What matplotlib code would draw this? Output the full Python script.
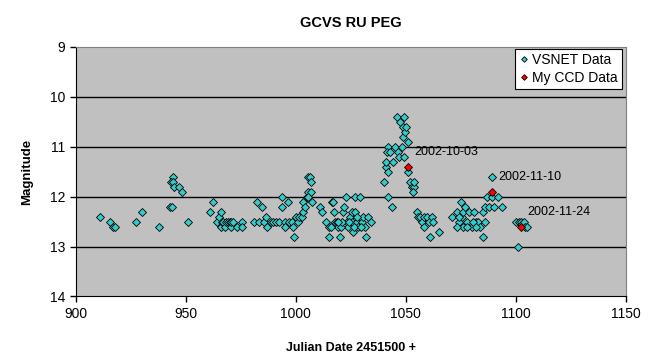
import matplotlib.pyplot as plt

plt.rcParams['font.family'] = ['Liberation Sans', 'DejaVu Sans']

# VSNET observations: (JD - 2451500, magnitude)
vsnet_jd = [
    911.0, 915.6, 917.1, 917.9, 927.4, 930.3, 937.9, 942.9, 943.9, 944.4,
    943.4, 944.4, 944.7, 947.0, 948.5, 951.2, 961.0, 962.5, 964.1, 965.1,
    966.0, 966.0, 966.5, 967.0, 968.0, 968.5, 969.0, 970.0, 970.4, 970.8,
    971.5, 973.5, 975.4, 975.4, 981.0, 982.4, 983.4, 984.5, 985.6, 986.5,
    987.1, 988.6, 989.8, 991.0, 992.5, 993.6, 993.6, 995.1, 995.1, 996.7,
    997.1, 998.2, 998.9, 999.4, 1000.2, 1001.2, 1001.7, 1002.7, 1003.2, 1003.5,
    1004.2, 1005.0, 1005.4, 1006.5, 1007.0, 1005.7, 1007.0, 1005.7, 1007.3, 1011.0,
    1011.8, 1013.7, 1015.2, 1015.2, 1016.3, 1017.0, 1017.4, 1017.8, 1018.6, 1019.4,
    1020.1, 1021.6, 1022.1, 1022.9, 1023.2, 1023.9, 1024.7, 1025.5, 1025.5, 1026.2,
    1027.0, 1027.0, 1027.7, 1028.5, 1029.2, 1030.0, 1030.7, 1031.5, 1032.0, 1033.0,
    1034.2, 1020.5, 1021.0, 1024.3, 1026.5, 1028.0, 1029.5, 1019.0, 1016.0,
    1040.1, 1041.0, 1041.0, 1041.8, 1042.1, 1041.4, 1042.1, 1042.8, 1043.9, 1044.4,
    1045.1, 1045.9, 1046.6, 1047.1, 1047.4, 1048.1, 1048.6, 1048.9, 1049.4, 1049.7,
    1049.2, 1050.2, 1051.2, 1051.2, 1052.0, 1052.8, 1053.6, 1053.3, 1053.9, 1055.1,
    1055.4, 1056.6, 1057.4, 1058.1, 1058.4, 1059.6, 1060.4, 1060.8, 1061.8, 1062.6,
    1065.3, 1071.2, 1073.2, 1075.0, 1074.4, 1075.4, 1076.2, 1076.2, 1076.9, 1077.7,
    1078.9, 1079.9, 1081.0, 1081.9, 1083.0, 1083.8, 1084.9, 1085.3, 1086.0, 1086.0,
    1086.8, 1088.0, 1089.1, 1089.1, 1089.9, 1091.7, 1093.9, 1073.5, 1074.0, 1078.0,
    1080.5, 1082.0, 1100.0, 1100.8, 1101.5, 1102.3, 1103.0, 1103.8, 1104.2, 1105.3,
]
vsnet_mag = [
    12.4, 12.5, 12.6, 12.6, 12.5, 12.3, 12.6, 12.2, 12.2, 11.6,
    11.7, 11.7, 11.8, 11.8, 11.9, 12.5, 12.3, 12.1, 12.5, 12.4,
    12.3, 12.6, 12.5, 12.5, 12.6, 12.5, 12.5, 12.5, 12.6, 12.5,
    12.5, 12.6, 12.5, 12.6, 12.5, 12.1, 12.5, 12.2, 12.5, 12.4,
    12.6, 12.5, 12.5, 12.5, 12.5, 12.0, 12.2, 12.5, 12.6, 12.1,
    12.5, 12.5, 12.6, 12.8, 12.4, 12.5, 12.4, 12.4, 12.3, 12.1,
    12.2, 12.0, 11.6, 11.6, 11.7, 11.9, 11.9, 12.0, 12.1, 12.2,
    12.3, 12.5, 12.6, 12.8, 12.1, 12.1, 12.3, 12.5, 12.5, 12.6,
    12.8, 12.3, 12.2, 12.0, 12.5, 12.6, 12.4, 12.3, 12.5, 12.7,
    12.0, 12.3, 12.5, 12.6, 12.0, 12.5, 12.4, 12.6, 12.8, 12.4,
    12.5, 12.6, 12.5, 12.5, 12.6, 12.4, 12.6, 12.5, 12.6,
    11.7, 11.4, 11.3, 11.5, 11.0, 11.1, 12.0, 11.1, 12.2, 11.3,
    11.0, 10.4, 11.1, 11.2, 10.5, 11.0, 10.8, 10.6, 10.4, 10.7,
    11.2, 10.6, 10.9, 11.5, 11.7, 11.8, 11.8, 11.9, 11.7, 12.3,
    12.4, 12.4, 12.5, 12.4, 12.6, 12.4, 12.5, 12.8, 12.4, 12.5,
    12.7, 12.4, 12.3, 12.1, 12.5, 12.4, 12.3, 12.6, 12.2, 12.5,
    12.3, 12.6, 12.3, 12.5, 12.5, 12.6, 12.3, 12.8, 12.5, 12.2,
    12.0, 12.2, 11.6, 12.0, 12.2, 12.0, 12.2, 12.6, 12.4, 12.6,
    12.5, 12.6, 12.5, 13.0, 12.5, 12.5, 12.55, 12.5, 12.6, 12.6,
]

ccd_jd = [1051.2, 1089.4, 1102.6]
ccd_mag = [11.4, 11.9, 12.6]
ccd_dates = ['2002-10-03', '2002-11-10', '2002-11-24']

fig = plt.figure(figsize=(6.7, 3.62), dpi=100)
ax = fig.add_axes([0.113, 0.181, 0.821, 0.690])
ax.set_facecolor('#C0C0C0')

for m in range(10, 14):
    ax.axhline(m, color='black', lw=1, zorder=1)

ax.plot(vsnet_jd, vsnet_mag, 'D', ms=3.6, mfc='#33CCCC', mec='black',
        mew=0.6, label='VSNET Data', zorder=3)
ax.plot(ccd_jd, ccd_mag, 'D', ms=3.6, mfc='#FF0000', mec='black',
        mew=0.6, label='My CCD Data', zorder=4)

for x, y, s in zip(ccd_jd, ccd_mag, ccd_dates):
    ax.annotate(s, (x, y), xytext=(4, 6), textcoords='offset points',
                fontsize=9, va='bottom', ha='left')

ax.set_xlim(900, 1150)
ax.set_ylim(14, 9)
ax.set_xticks(range(900, 1151, 50))
ax.set_yticks(range(9, 15))
ax.tick_params(direction='out', length=4, width=1, labelsize=10, color='black')

for side in ['top', 'right']:
    ax.spines[side].set_color('#808080')
for side in ['left', 'bottom']:
    ax.spines[side].set_color('black')

ax.set_title('GCVS RU PEG', fontsize=10.5, fontweight='bold', pad=14)
ax.set_xlabel('Julian Date 2451500 +', fontsize=9, fontweight='bold', labelpad=15)
ax.set_ylabel('Magnitude', fontsize=9.5, fontweight='bold', labelpad=12)

leg = ax.legend(loc='upper right', bbox_to_anchor=(0.993, 0.991), borderaxespad=0,
                fontsize=10, fancybox=False, framealpha=1, edgecolor='black',
                handlelength=0.6, handletextpad=0.3, borderpad=0.3, labelspacing=0.3,
                markerscale=0.8)
leg.get_frame().set_linewidth(0.8)

fig.savefig('out.png', dpi=100)
